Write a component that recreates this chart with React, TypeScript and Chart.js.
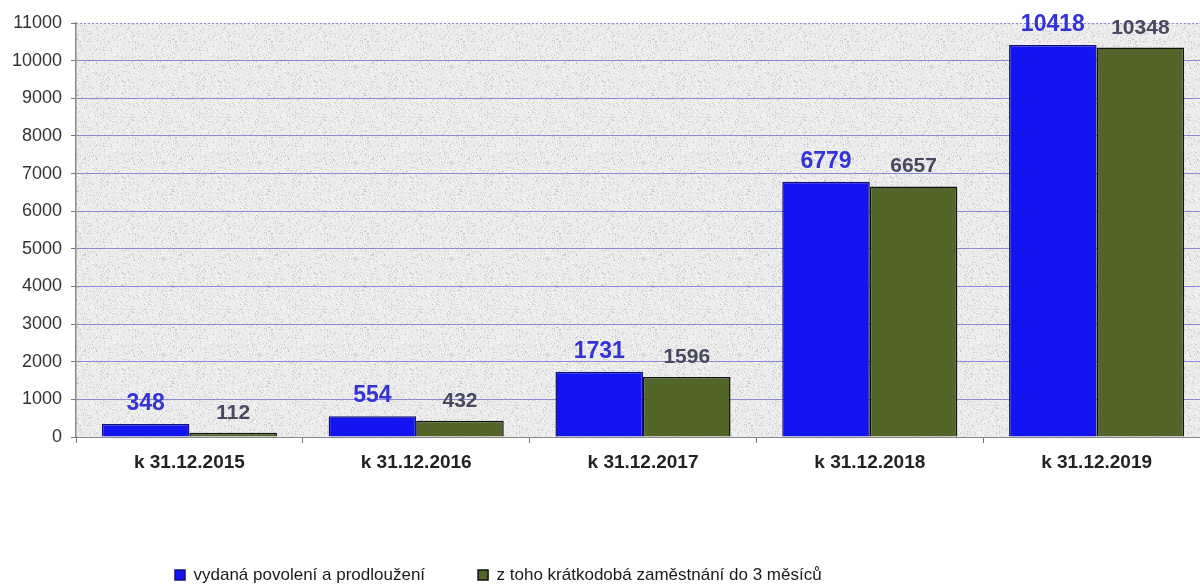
import React, { useEffect, useRef } from "react";
import { Chart, registerables } from "chart.js";

Chart.register(...registerables);

const categories = ["k 31.12.2015", "k 31.12.2016", "k 31.12.2017", "k 31.12.2018", "k 31.12.2019"];
const issued = [348, 554, 1731, 6779, 10418];
const shortTerm = [112, 432, 1596, 6657, 10348];
const seriesNames = ["vydaná povolení a prodloužení", "z toho krátkodobá zaměstnání do 3 měsíců"];
const yMax = 11000;
const yStep = 1000;

const FONT = "'Liberation Sans', Arial, sans-serif";

function makeTexture(): CanvasPattern | string {
  const c = document.createElement("canvas");
  c.width = 96;
  c.height = 96;
  const g = c.getContext("2d");
  if (!g) return "#eaeaea";
  g.fillStyle = "#ebebeb";
  g.fillRect(0, 0, 96, 96);
  let s = 12345;
  const next = () => {
    s = (s * 1103515245 + 12345) & 0x7fffffff;
    return s / 0x7fffffff;
  };
  for (let i = 0; i < 1600; i++) {
    const x = Math.floor(next() * 96);
    const y = Math.floor(next() * 96);
    const v = next();
    g.fillStyle = v < 0.5 ? "rgba(180,180,180,0.6)" : "rgba(255,255,255,0.85)";
    g.fillRect(x, y, 1, 1);
  }
  const p = g.createPattern(c, "repeat");
  return p || "#eaeaea";
}

const bgPlugin = {
  id: "bgPlugin",
  beforeDraw(chart: any) {
    const { ctx, chartArea } = chart;
    ctx.save();
    ctx.fillStyle = makeTexture();
    ctx.fillRect(chartArea.left, chartArea.top, chartArea.right - chartArea.left, chartArea.bottom - chartArea.top);
    ctx.restore();
  },
  afterLayout(chart: any) {
    const lg = chart.legend;
    if (!lg) return;
    const pad = lg.options.labels.padding;
    const dx = 175 - pad - lg.left;
    lg.left += dx;
    lg.right += dx;
    const dy = 575 - pad - 8.5 - lg.top;
    lg.top += dy;
    lg.bottom += dy;
  },
  afterDatasetsDraw(chart: any) {
    const { ctx } = chart;
    const y = chart.scales.y;
    const ty = Math.round(y.getPixelForValue(yMax)) + 0.5;
    ctx.save();
    ctx.strokeStyle = "#8a8ad8";
    ctx.lineWidth = 1;
    ctx.setLineDash([2, 2]);
    ctx.beginPath();
    ctx.moveTo(chart.chartArea.left, ty);
    ctx.lineTo(chart.chartArea.right, ty);
    ctx.stroke();
    ctx.restore();

    const styles = [
      { color: "#3434d6", font: `bold 23px ${FONT}` },
      { color: "#48485e", font: `bold 21px ${FONT}` },
    ];
    chart.data.datasets.forEach((ds: any, di: number) => {
      const meta = chart.getDatasetMeta(di);
      meta.data.forEach((el: any, i: number) => {
        ctx.save();
        ctx.fillStyle = styles[di].color;
        ctx.font = styles[di].font;
        ctx.textAlign = "center";
        ctx.textBaseline = "alphabetic";
        ctx.fillText(String(ds.data[i]), el.x, el.y - 14);
        ctx.restore();
      });
    });
  },
};

export default function App() {
  const ref = useRef<HTMLCanvasElement>(null);
  useEffect(() => {
    if (!ref.current) return;
    const chart = new Chart(ref.current, {
      type: "bar",
      data: {
        labels: categories,
        datasets: [
          {
            label: seriesNames[0],
            data: issued,
            backgroundColor: "#1414f2",
            borderColor: "#10107a",
            borderWidth: 1.5,
            categoryPercentage: 0.772,
            barPercentage: 1,
          },
          {
            label: seriesNames[1],
            data: shortTerm,
            backgroundColor: "#52662a",
            borderColor: "#111111",
            borderWidth: 1.5,
            categoryPercentage: 0.772,
            barPercentage: 1,
          },
        ],
      },
      options: {
        responsive: false,
        animation: false,
        layout: { padding: { top: 23, right: 0, left: 0, bottom: 0 } },
        plugins: {
          tooltip: { enabled: false },
          legend: {
            position: "bottom",
            align: "start",
            labels: {
              boxWidth: 10,
              boxHeight: 10,
              padding: 53,
              color: "#1a1a1a",
              font: { family: FONT, size: 17 },
            },
          },
        },
        scales: {
          x: {
            grid: {
              display: true,
              drawOnChartArea: false,
              drawTicks: true,
              tickLength: 6,
              tickColor: "#777",
              offset: true,
            },
            border: { display: true, color: "#888", width: 1 },
            ticks: {
              color: "#222",
              padding: 8,
              font: { family: FONT, size: 19, weight: "bold" },
              maxRotation: 0,
            },
            afterFit(scale: any) {
              const lg = scale.chart.legend;
              const lh = lg ? lg.height : 0;
              scale.height = 588 - 437 - lh;
            },
          },
          y: {
            min: 0,
            max: yMax,
            ticks: {
              stepSize: yStep,
              color: "#333",
              padding: 9,
              font: { family: FONT, size: 18 },
              callback: (v: any) => String(v),
            },
            grid: {
              color: (c: any) => (c.tick && c.tick.value === yMax ? "rgba(0,0,0,0)" : "#8a8ad8"),
              tickColor: "#777",
              tickLength: 5,
              lineWidth: 1,
            },
            border: { display: true, color: "#888", width: 1.5 },
            afterFit(scale: any) {
              scale.width = 76;
            },
          },
        },
      },
      plugins: [bgPlugin],
    });
    return () => chart.destroy();
  }, []);
  return (
    <div style={{ position: "absolute", left: 0, top: 0, width: 1200, height: 588, overflow: "hidden", background: "#fff" }}>
      <canvas ref={ref} width={1210} height={588} style={{ display: "block" }} />
    </div>
  );
}
